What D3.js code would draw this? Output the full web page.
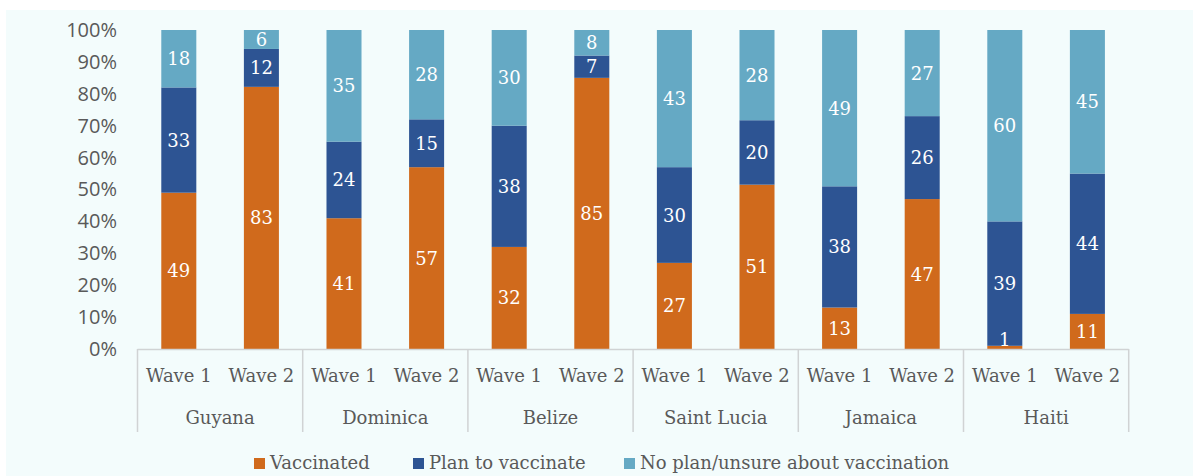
<!DOCTYPE html>
<html>
<head>
<meta charset="utf-8">
<script src="https://cdn.jsdelivr.net/npm/d3@7"></script>
<style>
  html, body { margin: 0; padding: 0; background: #ffffff; }
  svg { display: block; }
</style>
</head>
<body>
<svg id="chart" width="1193" height="476"></svg>
<script>
// Survey responses on COVID-19 vaccination, two waves per country (percent)
const countries = ["Guyana", "Dominica", "Belize", "Saint Lucia", "Jamaica", "Haiti"];
const waves = ["Wave 1", "Wave 2"];
const seriesNames = ["Vaccinated", "Plan to vaccinate", "No plan/unsure about vaccination"];

// values per country, [wave1, wave2]
const vaccinated = [[49, 83], [41, 57], [32, 85], [27, 51], [13, 47], [1, 11]];
const planToVaccinate = [[33, 12], [24, 15], [38, 7], [30, 20], [38, 26], [39, 44]];
const noPlan = [[18, 6], [35, 28], [30, 8], [43, 28], [49, 27], [60, 45]];

const yTicks = [0, 10, 20, 30, 40, 50, 60, 70, 80, 90, 100];
const colors = ["#d06a1c", "#2d5493", "#65a9c4"];

const svg = d3.select("#chart");
const W = 1193, H = 476;
const plotLeft = 137.5, plotRight = 1128.7, plotTop = 30, plotBase = 349;
const textGrey = "#595959";
const serif = "'DejaVu Serif', serif";

// panel background
svg.append("rect").attr("x", 6).attr("y", 10).attr("width", W - 6).attr("height", H - 10)
  .attr("fill", "#f3fcfc");

const x0 = d3.scaleBand().domain(countries).range([plotLeft, plotRight]);
const x1 = d3.scaleBand().domain(waves).range([0, x0.bandwidth()]);
const y = d3.scaleLinear().domain([0, 100]).range([plotBase, plotTop]);
const barW = x1.bandwidth() * 0.424;

// rows: one per country/wave, stacked as shares of the total
const rows = [];
countries.forEach((c, i) => {
  waves.forEach((w, j) => {
    const vals = [vaccinated[i][j], planToVaccinate[i][j], noPlan[i][j]];
    const total = d3.sum(vals);
    let acc = 0;
    const segs = vals.map((v, k) => {
      const s = { k, v, y0: acc / total * 100, y1: (acc + v) / total * 100 };
      acc += v;
      return s;
    });
    rows.push({ c, w, segs });
  });
});

const g = svg.append("g");
rows.forEach(r => {
  const cx = x0(r.c) + x1(r.w) + x1.bandwidth() / 2;
  r.segs.forEach(s => {
    g.append("rect")
      .attr("x", cx - barW / 2)
      .attr("y", y(s.y1))
      .attr("width", barW)
      .attr("height", y(s.y0) - y(s.y1))
      .attr("fill", colors[s.k]);
  });
  r.segs.forEach(s => {
    // keep labels of very thin segments above the baseline
    const mid = Math.min((y(s.y0) + y(s.y1)) / 2, plotBase - 9);
    g.append("text")
      .attr("x", cx)
      .attr("y", mid)
      .attr("dy", "0.36em")
      .attr("text-anchor", "middle")
      .attr("font-family", serif)
      .attr("font-size", 18)
      .attr("fill", "#ffffff")
      .text(s.v);
  });
});

// y axis labels (no axis line)
const yAxis = d3.axisLeft(y).tickValues(yTicks).tickFormat(d => d + "%").tickSize(0).tickPadding(0);
const ya = svg.append("g").attr("transform", "translate(117,0)").call(yAxis);
ya.select(".domain").remove();
ya.selectAll("text")
  .attr("font-family", "'Open Sans', sans-serif")
  .attr("font-size", 20)
  .attr("fill", textGrey);

// category axis: baseline and group separators
const axisColor = "#d0d3d4";
svg.append("line").attr("x1", plotLeft).attr("x2", plotRight).attr("y1", plotBase + 0.5).attr("y2", plotBase + 0.5)
  .attr("stroke", axisColor).attr("stroke-width", 1.5);
const seps = countries.map(c => x0(c)).concat([plotRight]);
svg.selectAll(".sep").data(seps).enter().append("line")
  .attr("x1", d => d).attr("x2", d => d)
  .attr("y1", plotBase).attr("y2", 432)
  .attr("stroke", axisColor).attr("stroke-width", 1.5);

countries.forEach(c => {
  waves.forEach(w => {
    svg.append("text")
      .attr("x", x0(c) + x1(w) + x1.bandwidth() / 2)
      .attr("y", 382)
      .attr("text-anchor", "middle")
      .attr("font-family", serif)
      .attr("font-size", 18)
      .attr("fill", textGrey)
      .text(w);
  });
  svg.append("text")
    .attr("x", x0(c) + x0.bandwidth() / 2)
    .attr("y", 424)
    .attr("text-anchor", "middle")
    .attr("font-family", serif)
    .attr("font-size", 18)
    .attr("fill", textGrey)
    .text(c);
});

// legend
const legendX = [254, 413, 624];
const lg = svg.append("g");
seriesNames.forEach((n, k) => {
  lg.append("rect").attr("x", legendX[k]).attr("y", 458).attr("width", 11).attr("height", 11)
    .attr("fill", colors[k]);
  lg.append("text").attr("x", legendX[k] + 16).attr("y", 469)
    .attr("font-family", serif).attr("font-size", 18).attr("fill", textGrey)
    .text(n);
});
</script>
</body>
</html>
